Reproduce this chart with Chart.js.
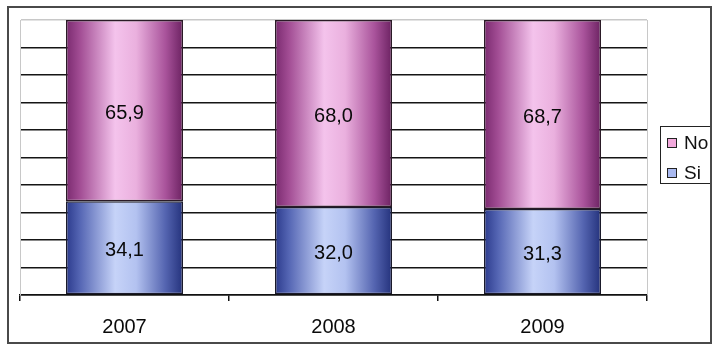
<!DOCTYPE html>
<html>
<head>
<meta charset="utf-8">
<script src="https://cdn.jsdelivr.net/npm/chart.js@4"></script>
<style>
  html, body { margin: 0; padding: 0; background: #fff; }
  canvas { display: block; }
</style>
</head>
<body>
<canvas id="chart" width="714" height="347"></canvas>
<script>
const years = ["2007", "2008", "2009"];
const siValues = [34.1, 32.0, 31.3];
const noValues = [65.9, 68.0, 68.7];

const BAR_PCT = 0.56;

// cylinder-like shading across each bar
const pinkStops = [[0, "#7a2a6f"], [0.12, "#a24d94"], [0.42, "#f4c3ec"], [0.6, "#eab0de"], [0.85, "#a9539b"], [1, "#6c2262"]];
const blueStops = [[0, "#2b3a8c"], [0.12, "#5566b4"], [0.42, "#c6d3f8"], [0.6, "#b3c2f0"], [0.85, "#5464b0"], [1, "#24327c"]];

function barFill(stops) {
  return function (context) {
    const chart = context.chart;
    const x = chart.scales.x;
    if (!chart.chartArea || !x || context.dataIndex === undefined) return stops[2][1];
    const cx = x.getPixelForValue(context.dataIndex);
    const w = (x.width / years.length) * BAR_PCT;
    const g = chart.ctx.createLinearGradient(cx - w / 2, 0, cx + w / 2, 0);
    stops.forEach(s => g.addColorStop(s[0], s[1]));
    return g;
  };
}

const fmt = v => v.toFixed(1).replace(".", ",");

const extras = {
  id: "extras",
  beforeDraw(chart) {
    const ctx = chart.ctx;
    ctx.save();
    ctx.fillStyle = "#fff";
    ctx.fillRect(0, 0, chart.width, chart.height);
    ctx.restore();
  },
  beforeDatasetsDraw(chart) {
    // thin right edge of the plot area
    const a = chart.chartArea;
    const ctx = chart.ctx;
    ctx.save();
    ctx.strokeStyle = "#c8c8c8";
    ctx.lineWidth = 1;
    ctx.beginPath();
    ctx.moveTo(a.right + 0.5, a.top);
    ctx.lineTo(a.right + 0.5, a.bottom);
    ctx.stroke();
    ctx.restore();
  },
  afterDatasetsDraw(chart) {
    const ctx = chart.ctx;
    ctx.save();
    ctx.font = "20px Arial, 'Liberation Sans', sans-serif";
    ctx.fillStyle = "#0a0a0a";
    ctx.textAlign = "center";
    ctx.textBaseline = "middle";
    chart.data.datasets.forEach((ds, i) => {
      chart.getDatasetMeta(i).data.forEach((bar, j) => {
        ctx.fillText(fmt(ds.data[j]), bar.x, (bar.y + bar.base) / 2 + 3);
      });
    });
    ctx.restore();
  },
  afterDraw(chart) {
    const ctx = chart.ctx;
    ctx.save();
    // legend, "No" first as in the stack order
    const items = chart.data.datasets.slice().reverse();
    ctx.strokeStyle = "#222";
    ctx.lineWidth = 1;
    ctx.fillStyle = "#fff";
    ctx.fillRect(660, 126, 54, 57);
    ctx.strokeRect(660.5, 126.5, 54, 57);
    ctx.font = "19px Arial, 'Liberation Sans', sans-serif";
    ctx.textBaseline = "middle";
    items.forEach((ds, k) => {
      const y = 143 + k * 30;
      ctx.fillStyle = ds.legendColor;
      ctx.fillRect(667, y - 5, 10, 10);
      ctx.strokeStyle = "#222";
      ctx.strokeRect(667.5, y - 4.5, 9, 9);
      ctx.fillStyle = "#111";
      ctx.fillText(ds.label, 684, y + 1);
    });
    // outer frame
    ctx.fillStyle = "#fff";
    ctx.fillRect(712, 0, 2, chart.height);
    ctx.strokeStyle = "#4a4a4a";
    ctx.lineWidth = 2;
    ctx.strokeRect(8, 7, 703, 336);
    ctx.restore();
  }
};

new Chart(document.getElementById("chart"), {
  type: "bar",
  data: {
    labels: years,
    datasets: [
      {
        label: "Si",
        data: siValues,
        backgroundColor: barFill(blueStops),
        legendColor: "#a9b9f0",
        borderColor: "#1a1a2a",
        borderWidth: 1.5,
        borderSkipped: false
      },
      {
        label: "No",
        data: noValues,
        backgroundColor: barFill(pinkStops),
        legendColor: "#f2a9dc",
        borderColor: "#2a1a26",
        borderWidth: 1.5,
        borderSkipped: false
      }
    ]
  },
  options: {
    responsive: false,
    animation: false,
    layout: { padding: { left: 20, right: 67, top: 20, bottom: 0 } },
    datasets: { bar: { categoryPercentage: 1, barPercentage: BAR_PCT } },
    plugins: {
      legend: { display: false },
      tooltip: { enabled: false }
    },
    scales: {
      x: {
        stacked: true,
        afterFit: s => { s.height = 52; },
        grid: { offset: true, drawOnChartArea: false, tickLength: 6, color: "#111", lineWidth: 1.5 },
        border: { color: "#111", width: 1.5 },
        ticks: { color: "#0a0a0a", padding: 14, font: { family: "Arial, 'Liberation Sans', sans-serif", size: 20 } }
      },
      y: {
        stacked: true,
        min: 0,
        max: 100,
        afterFit: s => { s.width = 0; },
        ticks: { display: false, stepSize: 10 },
        grid: {
          drawTicks: false,
          lineWidth: 1.5,
          color: c => (c.tick && c.tick.value === 100 ? "#c8c8c8" : "#151515")
        },
        border: { color: "#c8c8c8", width: 1 }
      }
    }
  },
  plugins: [extras]
});
</script>
</body>
</html>
